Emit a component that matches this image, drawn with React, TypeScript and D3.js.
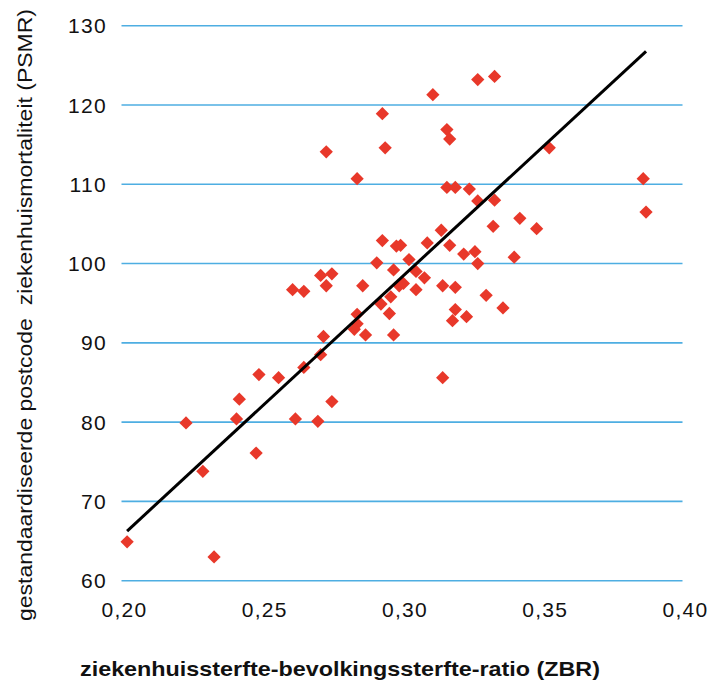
import React, { useEffect, useRef } from 'react';
import * as d3 from 'd3';

// ZBR per postcode area (x) and PSMR (y)
const zbr = [
  0.202, 0.223, 0.229, 0.233, 0.241, 0.242, 0.248, 0.249, 0.256, 0.262,
  0.270, 0.275, 0.265, 0.271, 0.272, 0.261, 0.265, 0.273, 0.286, 0.284,
  0.284, 0.283, 0.287, 0.2925, 0.296, 0.2955, 0.297, 0.299, 0.3005, 0.271,
  0.275, 0.291, 0.293, 0.298, 0.297, 0.2995, 0.3025, 0.305, 0.308, 0.305,
  0.3145, 0.319, 0.330, 0.336, 0.319, 0.318, 0.323, 0.3145, 0.309, 0.314,
  0.317, 0.322, 0.326, 0.327, 0.340, 0.3325, 0.342, 0.348, 0.327, 0.333,
  0.324, 0.316, 0.319, 0.284, 0.273, 0.294, 0.293, 0.311, 0.327, 0.333,
  0.316, 0.317, 0.3525, 0.386, 0.387,
];
const psmr = [
  64.9, 79.9, 73.8, 63.0, 80.4, 82.9, 76.1, 86.0, 85.6, 80.4,
  80.1, 82.6, 86.9, 88.5, 90.8, 96.7, 96.5, 97.2, 97.2, 93.6,
  92.4, 91.7, 91.0, 94.9, 95.8, 93.7, 91.0, 97.2, 97.5, 98.5,
  98.7, 100.1, 102.9, 102.2, 99.2, 102.3, 100.5, 99.0, 98.2, 96.7,
  97.2, 97.0, 96.0, 94.4, 94.2, 92.8, 93.3, 85.6, 102.6, 104.2,
  102.3, 101.2, 101.5, 100.0, 100.8, 104.7, 105.7, 104.4, 107.9, 108.0,
  109.4, 109.6, 109.6, 110.7, 114.1, 114.6, 118.9, 121.3, 123.2, 123.6,
  116.9, 115.7, 114.6, 110.7, 106.5,
];

// linear trendline y = slope * x + intercept
const trendSlope = 327;
const trendIntercept = 0.21;

const xTicks = [0.2, 0.25, 0.3, 0.35, 0.4];
const yTicks = [60, 70, 80, 90, 100, 110, 120, 130];

const xTitle = 'ziekenhuissterfte-bevolkingssterfte-ratio (ZBR)';
const yTitle = 'gestandaardiseerde postcode  ziekenhuismortaliteit (PSMR)';

const App = () => {
  const svgRef = useRef(null);

  useEffect(() => {
    const svg = d3.select(svgRef.current);
    svg.selectAll('*').remove();

    const font = '"Liberation Sans", Arial, sans-serif';

    const x = d3.scaleLinear().domain([0.2, 0.4]).range([121.5, 682.5]);
    const y = d3.scaleLinear().domain([60, 130]).range([580.7, 25.7]);

    // horizontal gridlines
    svg.append('g')
      .selectAll('line')
      .data(yTicks)
      .enter().append('line')
      .attr('x1', x(0.2))
      .attr('x2', x(0.4))
      .attr('y1', d => y(d))
      .attr('y2', d => y(d))
      .attr('stroke', '#4eaee2')
      .attr('stroke-width', 1.6);

    // y tick labels
    svg.append('g')
      .selectAll('text')
      .data(yTicks)
      .enter().append('text')
      .attr('x', 107)
      .attr('y', d => y(d))
      .attr('dy', '0.36em')
      .attr('text-anchor', 'end')
      .style('font-family', font)
      .style('font-size', '21px')
      .style('letter-spacing', '1.3px')
      .attr('fill', '#111')
      .text(d => d);

    // x tick labels
    const fmt = d3.format('.2f');
    svg.append('g')
      .selectAll('text')
      .data(xTicks)
      .enter().append('text')
      .attr('x', d => x(d) + 3)
      .attr('y', 617)
      .attr('text-anchor', 'middle')
      .style('font-family', font)
      .style('font-size', '21px')
      .style('letter-spacing', '1.3px')
      .attr('fill', '#111')
      .text(d => fmt(d).replace('.', ','));

    // data points as diamonds
    const diamond = d3.symbol().type(d3.symbolSquare).size(88);
    svg.append('g')
      .selectAll('path')
      .data(zbr.map((v, i) => [v, psmr[i]]))
      .enter().append('path')
      .attr('d', diamond)
      .attr('transform', d => `translate(${x(d[0])},${y(d[1])}) rotate(45)`)
      .attr('fill', '#e8382a');

    // trendline across the data range
    const [xMin, xMax] = d3.extent(zbr);
    const line = d3.line()
      .x(d => x(d))
      .y(d => y(trendSlope * d + trendIntercept));
    svg.append('path')
      .attr('d', line([xMin, xMax]))
      .attr('stroke', '#000')
      .attr('stroke-width', 3)
      .attr('fill', 'none');

    // axis titles
    svg.append('text')
      .attr('x', 340)
      .attr('y', 676)
      .attr('text-anchor', 'middle')
      .attr('textLength', 520)
      .attr('lengthAdjust', 'spacingAndGlyphs')
      .style('font-family', font)
      .style('font-size', '21px')
      .style('font-weight', 'bold')
      .attr('fill', '#111')
      .text(xTitle);

    svg.append('text')
      .attr('transform', 'translate(31.5,315) rotate(-90)')
      .attr('text-anchor', 'middle')
      .attr('textLength', 612)
      .attr('lengthAdjust', 'spacingAndGlyphs')
      .style('font-family', font)
      .style('font-size', '21px')
      .style('white-space', 'pre')
      .attr('fill', '#111')
      .text(yTitle);
  }, []);

  return (
    <div style={{ position: 'absolute', left: 0, top: 0 }}>
      <svg ref={svgRef} width={712} height={684} style={{ display: 'block', background: '#fff' }} />
    </div>
  );
};

export default App;
